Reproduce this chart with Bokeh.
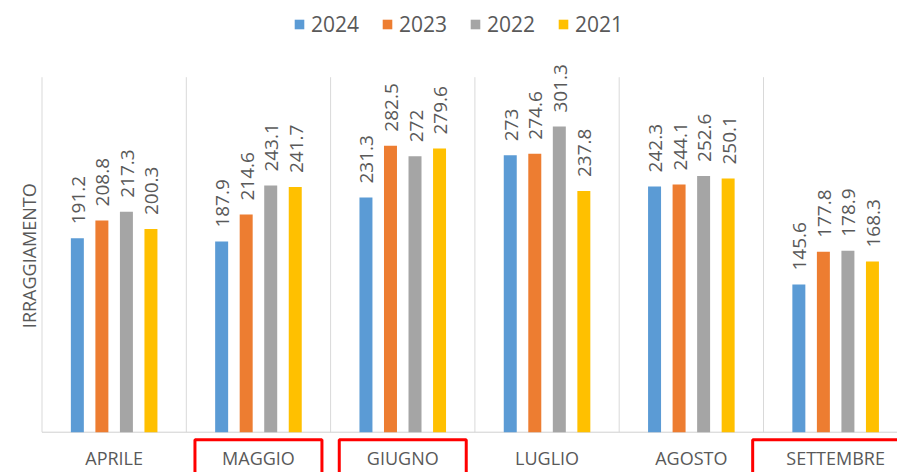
import numpy as np
from bokeh.plotting import figure
from bokeh.models import Legend, LegendItem, Range1d
from bokeh.embed import file_html
from bokeh.resources import INLINE
from bokeh.core.properties import value

# ---- data ----
months = ["APRILE", "MAGGIO", "GIUGNO", "LUGLIO", "AGOSTO", "SETTEMBRE"]
years = ["2024", "2023", "2022", "2021"]
v2024 = [191.2, 187.9, 231.3, 273, 242.3, 145.6]
v2023 = [208.8, 214.6, 282.5, 274.6, 244.1, 177.8]
v2022 = [217.3, 243.1, 272, 301.3, 252.6, 178.9]
v2021 = [200.3, 241.7, 279.6, 237.8, 250.1, 168.3]
highlighted = ["MAGGIO", "GIUGNO", "SETTEMBRE"]
y_max = 350
y_title = "IRRAGGIAMENTO"

series = [v2024, v2023, v2022, v2021]
colors = ["#5B9BD5", "#ED7D31", "#A5A5A5", "#FFC000"]
offsets = [-0.255, -0.085, 0.085, 0.255]
TXT = "#595959"
FONT = value("Open Sans")

W, H = 897, 472
# layout mapping: px = 41.5 + 144.3*x ; py = 431.7 - 1.0143*y
x0 = (0 - 41.5) / 144.3
x1 = (W - 41.5) / 144.3
y1 = 431.7 / 1.0143
y0 = (431.7 - H) / 1.0143

p = figure(width=W, height=H, output_backend="svg", toolbar_location=None,
           x_range=Range1d(x0, x1), y_range=Range1d(y0, y1),
           min_border=0, x_axis_location=None, y_axis_location=None)
p.outline_line_color = None
p.xgrid.visible = False
p.ygrid.visible = False

n = len(months)
edges = list(range(n + 1))
# category separators
p.segment(x0=edges, y0=[0] * len(edges), x1=edges, y1=[y_max] * len(edges),
          line_color="#D9D9D9", line_width=1)
# baseline
p.segment(x0=[0], y0=[0], x1=[n], y1=[0], line_color="#D0D0D0", line_width=1)

items = []
for vals, col, off, yr in zip(series, colors, offsets, years):
    xs = [i + 0.5 + off for i in range(n)]
    r = p.vbar(x=xs, top=vals, bottom=0, width=0.09, fill_color=col, line_color=None)
    items.append(LegendItem(label=yr, renderers=[r]))
    p.text(x=xs, y=vals, text=[f"{v:g}" for v in vals], angle=np.pi / 2,
           text_align="left", text_baseline="middle", y_offset=-14, x_offset=1,
           text_font=FONT, text_font_size="19px", text_color=TXT)

# category labels
p.text(x=[i + 0.5 for i in range(n)], y=[0] * n, text=months, text_align="center",
       text_baseline="middle", y_offset=26, text_font=FONT, text_font_size="18px",
       text_color=TXT)

# red highlight boxes
hx = [months.index(m) + 0.5 for m in highlighted]
hw = [0.17 + 0.045 * len(m) for m in highlighted]
p.quad(left=[c - w for c, w in zip(hx, hw)], right=[c + w for c, w in zip(hx, hw)],
       top=[-7.4] * len(hx), bottom=[-80] * len(hx),
       fill_color=None, line_color="#FF0000", line_width=3)

# y title
p.text(x=[(28 - 41.5) / 144.3], y=[174], text=[y_title], angle=np.pi / 2,
       text_align="center", text_baseline="middle", text_font=FONT,
       text_font_size="18px", text_color=TXT)

legend = Legend(items=items, orientation="horizontal", location=(293, 434),
                glyph_width=12, glyph_height=12, label_standoff=6, spacing=22,
                padding=0, margin=0, border_line_color=None,
                background_fill_alpha=0, label_text_font="Open Sans",
                label_text_font_size="21px", label_text_color=TXT)
p.add_layout(legend)

open("out.html", "w").write(file_html(p, INLINE))
